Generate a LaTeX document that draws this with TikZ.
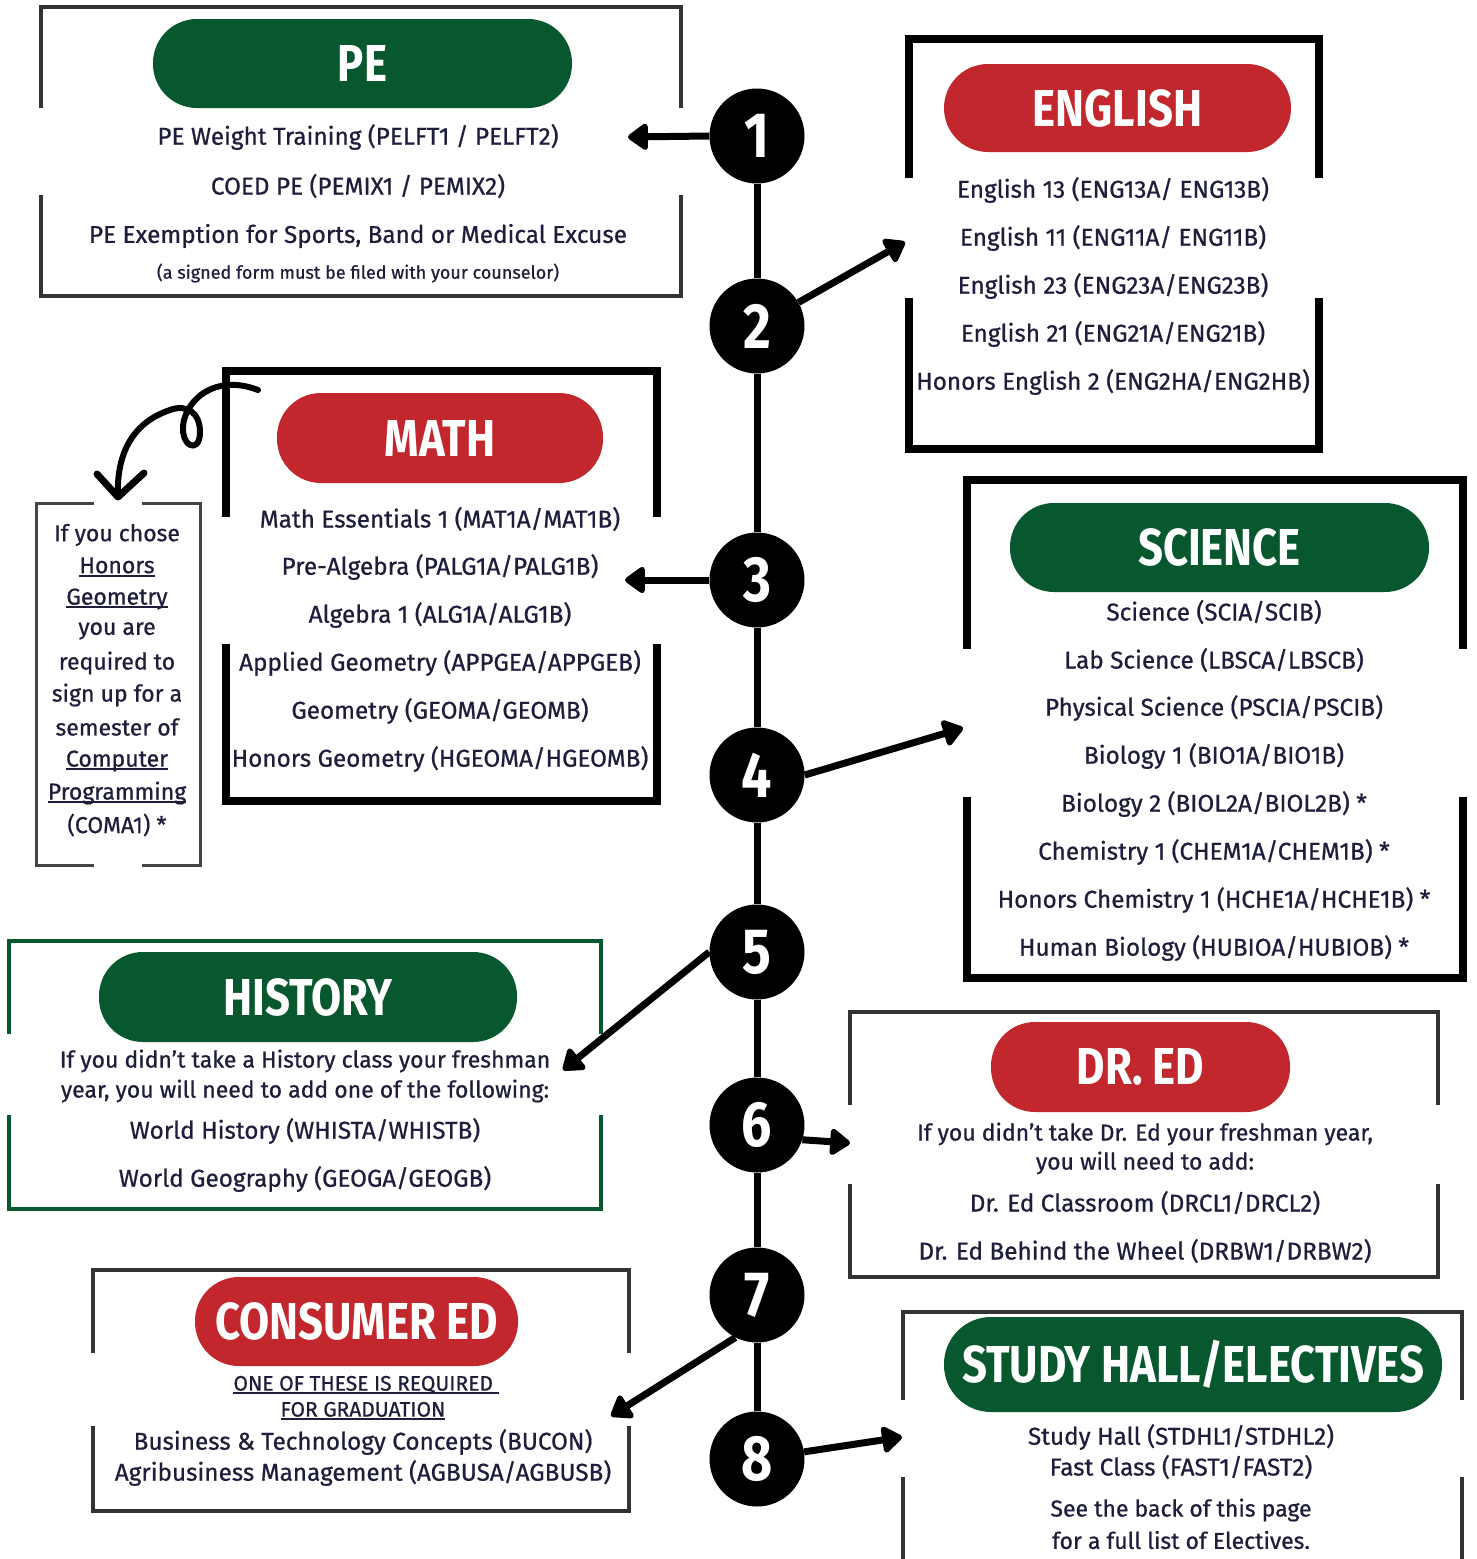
\documentclass[tikz,border=0pt]{standalone}
\usepackage{fontspec}
\usepackage{graphicx}
\setmainfont{Fira Sans}[FakeBold=0.7]
\newfontfamily\headfont{Fira Sans}[FakeStretch=0.84]
\usetikzlibrary{arrows.meta}
\definecolor{grn}{HTML}{07572F}
\definecolor{rd}{HTML}{C1272D}
\definecolor{navy}{HTML}{1E1E3C}
\definecolor{frm}{HTML}{333333}
\definecolor{frmlight}{HTML}{444444}
\newcommand\myul[1]{\setbox0\hbox{#1}\rlap{\rule[-3.5pt]{\wd0}{1.8pt}}\box0}
\tikzset{
  body/.style={text=navy, inner sep=0pt, font=\fontsize{24.3}{28}\selectfont},
  sent/.style={text=navy, inner sep=0pt, font=\fontsize{23}{27}\selectfont},
  smalltext/.style={text=navy, inner sep=0pt, font=\fontsize{18}{21}\selectfont},
  pill/.style={rectangle, rounded corners=44pt, inner sep=0pt, text=white,
    font=\headfont\bfseries\fontsize{52}{56}\selectfont},
  numc/.style={circle, fill=black, minimum size=95pt, inner sep=0pt, text=white,
    font=\headfont\bfseries\fontsize{64}{64}\selectfont},
  thinframe/.style={draw=frm, line width=4pt, line join=miter},
  thickframe/.style={draw=black, line width=8pt, line join=miter},
  arr/.style={line width=7pt, -{Triangle[length=22pt,width=30pt,round]}},
}
\begin{document}
\begin{tikzpicture}[x=1pt,y=-1pt]
\useasboundingbox[fill=white] (0,0) rectangle (1476,1559);

% ---------- frames ----------
% PE
\draw[thinframe] (41,108) |- (681,7) -- (681,108);
\draw[thinframe] (41,195) |- (681,296) -- (681,195);
% English
\draw[thickframe] (909,178) |- (1319,39) -- (1319,178);
\draw[thickframe] (909,298) |- (1319,449) -- (1319,298);
% Math
\draw[thickframe] (226,517) |- (657,371) -- (657,517);
\draw[thickframe] (226,644) |- (657,801) -- (657,644);
% Note box
\draw[draw=frmlight, line width=3pt] (94,503) -| (36,865) -- (94,865);
\draw[draw=frmlight, line width=3pt] (142,503) -| (200,865) -- (142,865);
% Science
\draw[thickframe] (967,649) |- (1463,480) -- (1463,649);
\draw[thickframe] (967,797) |- (1463,978) -- (1463,797);
% History
\draw[draw=grn, line width=4pt] (9,1034) |- (601,941) -- (601,1034);
\draw[draw=grn, line width=4pt] (9,1115) |- (601,1209) -- (601,1115);
% Dr Ed
\draw[thinframe] (850,1105) |- (1438,1012) -- (1438,1105);
\draw[thinframe] (850,1184) |- (1438,1277) -- (1438,1184);
% Consumer Ed
\draw[thinframe] (93,1353) |- (629,1270) -- (629,1353);
\draw[thinframe] (93,1426) |- (629,1511) -- (629,1426);
% Study hall
\draw[thinframe] (903,1400) |- (1462,1312) -- (1462,1400);
\draw[thinframe] (903,1477) -- (903,1565);
\draw[thinframe] (1462,1477) -- (1462,1565);

% ---------- pills ----------
\node[pill, fill=grn, minimum width=419pt, minimum height=89pt] (pep) at (362.5,63.5) {PE};
\node[pill, fill=rd, minimum width=347pt, minimum height=88pt] (enp) at (1117.5,108) {ENGLISH};
\node[pill, fill=rd, minimum width=326pt, minimum height=90pt] (map) at (440,438) {MATH};
\node[pill, fill=grn, minimum width=419pt, minimum height=89pt] (scp) at (1219.5,547.5) {SCIENCE};
\node[pill, fill=grn, minimum width=418pt, minimum height=90pt] (hip) at (308,997) {HISTORY};
\node[pill, fill=rd, minimum width=299pt, minimum height=90pt] (dep) at (1140.5,1067) {DR. ED};
\node[pill, fill=rd, minimum width=323pt, minimum height=89pt] (cop) at (356.5,1321.5) {CONSUMER ED};
\node[pill, fill=grn, minimum width=498pt, minimum height=95pt, rounded corners=47pt] (stp) at (1193,1364.5) {STUDY HALL/ELECTIVES};

% ---------- PE text ----------
\node[body] (pe1) at (358,137) {PE Weight Training (PELFT1 / PELFT2)};
\node[body] (pe2) at (358,186) {COED PE (PEMIX1 / PEMIX2)};
\node[body] (pe3) at (358,236) {PE Exemption for Sports, Band or Medical Excuse};
\node[smalltext] (pe4) at (358,273) {(a signed form must be filed with your counselor)};

% ---------- English text ----------
\node[body] (en1) at (1113,190) {English 13 (ENG13A/ ENG13B)};
\node[body] (en2) at (1113,238) {English 11 (ENG11A/ ENG11B)};
\node[body] (en3) at (1113,286) {English 23 (ENG23A/ENG23B)};
\node[body] (en4) at (1113,334) {English 21 (ENG21A/ENG21B)};
\node[body] (en5) at (1113,382) {Honors English 2 (ENG2HA/ENG2HB)};

% ---------- Math text ----------
\node[body] (ma1) at (440,519) {Math Essentials 1 (MAT1A/MAT1B)};
\node[body] (ma2) at (440,567) {Pre-Algebra (PALG1A/PALG1B)};
\node[body] (ma3) at (440,615) {Algebra 1 (ALG1A/ALG1B)};
\node[body] (ma4) at (440,663) {Applied Geometry (APPGEA/APPGEB)};
\node[body] (ma5) at (440,711) {Geometry (GEOMA/GEOMB)};
\node[body] (ma6) at (440,759) {Honors Geometry (HGEOMA/HGEOMB)};

% ---------- Note text ----------
\node[sent] (nt1) at (117,535) {If you chose};
\node[sent] (nt2) at (117,567) {\myul{Honors}};
\node[sent] (nt3) at (117,599) {\myul{Geometry}};
\node[sent] (nt4) at (117,631) {you are};
\node[sent] (nt5) at (117,663) {required to};
\node[sent] (nt6) at (117,695) {sign up for a};
\node[sent] (nt7) at (117,727) {semester of};
\node[sent] (nt8) at (117,761) {\myul{Computer}};
\node[sent] (nt9) at (117,793) {\myul{Programming}};
\node[sent] (nt10) at (117,825) {(COMA1) *};

% ---------- Science text ----------
\node[body] (sc1) at (1214,612) {Science (SCIA/SCIB)};
\node[body] (sc2) at (1214,660) {Lab Science (LBSCA/LBSCB)};
\node[body] (sc3) at (1214,708) {Physical Science (PSCIA/PSCIB)};
\node[body] (sc4) at (1214,756) {Biology 1 (BIO1A/BIO1B)};
\node[body] (sc5) at (1214,804) {Biology 2 (BIOL2A/BIOL2B) *};
\node[body] (sc6) at (1214,852) {Chemistry 1 (CHEM1A/CHEM1B) *};
\node[body] (sc7) at (1214,900) {Honors Chemistry 1 (HCHE1A/HCHE1B) *};
\node[body] (sc8) at (1214,948) {Human Biology (HUBIOA/HUBIOB) *};

% ---------- History text ----------
\node[sent] (hi1) at (305,1061) {If you didn’t take a History class your freshman};
\node[sent] (hi2) at (305,1091) {year, you will need to add one of the following:};
\node[body] (hi3) at (305,1131) {World History (WHISTA/WHISTB)};
\node[body] (hi4) at (305,1179) {World Geography (GEOGA/GEOGB)};

% ---------- Dr Ed text ----------
\node[sent] (de1) at (1145,1134) {If you didn’t take Dr. Ed your freshman year,};
\node[sent] (de2) at (1145,1163) {you will need to add:};
\node[body] (de3) at (1145,1203) {Dr. Ed Classroom (DRCL1/DRCL2)};
\node[body] (de4) at (1145,1251) {Dr. Ed Behind the Wheel (DRBW1/DRBW2)};

% ---------- Consumer Ed text ----------
\node[body, font=\fontsize{21}{24}\selectfont] (co1) at (366,1385) {\myul{ONE OF THESE IS REQUIRED\ }};
\node[body, font=\fontsize{21}{24}\selectfont] (co2) at (363,1411) {\myul{FOR GRADUATION}};
\node[body] (co3) at (363,1442) {Business \& Technology Concepts (BUCON)};
\node[body] (co4) at (363,1473) {Agribusiness Management (AGBUSA/AGBUSB)};

% ---------- Study hall text ----------
\node[body] (st1) at (1181,1437) {Study Hall (STDHL1/STDHL2)};
\node[body] (st2) at (1181,1467) {Fast Class (FAST1/FAST2)};
\node[sent] (st3) at (1181,1510) {See the back of this page};
\node[sent] (st4) at (1181,1540) {for a full list of Electives.};

% ---------- timeline ----------
\node[numc] (c1) at (757,136) {1};
\node[numc] (c2) at (757,326) {2};
\node[numc] (c3) at (757,580) {3};
\node[numc] (c4) at (757,775) {4};
\node[numc] (c5) at (757,952) {5};
\node[numc] (c6) at (757,1125) {6};
\node[numc] (c7) at (757,1295) {7};
\node[numc] (c8) at (757,1459) {8};
\foreach \a/\b in {c1/c2,c2/c3,c3/c4,c4/c5,c5/c6,c6/c7,c7/c8}
  \draw[line width=7pt] (\a) -- (\b);

% ---------- arrow ends ----------
\coordinate (a1) at (628,137);
\coordinate (a2) at (905,242);
\coordinate (a3) at (625,580);
\coordinate (a4) at (963,728);
\coordinate (a5) at (563,1070);
\coordinate (a6) at (850,1143);
\coordinate (a7) at (611,1416);
\coordinate (a8) at (902,1437);
\draw[arr] (c1.west) -- (a1);
\draw[arr] (c2) -- (a2);
\draw[arr] (c3.west) -- (a3);
\draw[arr] (c4.east) -- (a4);
\draw[arr] (c5.west) -- (a5);
\draw[arr] (c6.-18) -- (a6);
\draw[arr] (c7.243) -- (a7);
\draw[arr] (c8) -- (a8);

% ---------- curly arrow ----------
\coordinate (curlS) at (258,390);
\coordinate (curlE) at (118,497);
\draw[line width=6pt, line cap=round, line join=round]
  (curlS) .. controls (222,376) and (192,392) .. (184,420)
  .. controls (178,446) and (200,456) .. (200,432)
  .. controls (200,412) and (186,404) .. (170,410)
  .. controls (134,422) and (116,452) .. (curlE);
\draw[line width=7pt, line cap=round, line join=round] (97,474) -- (curlE) -- (144,473);
\end{tikzpicture}
\end{document}
